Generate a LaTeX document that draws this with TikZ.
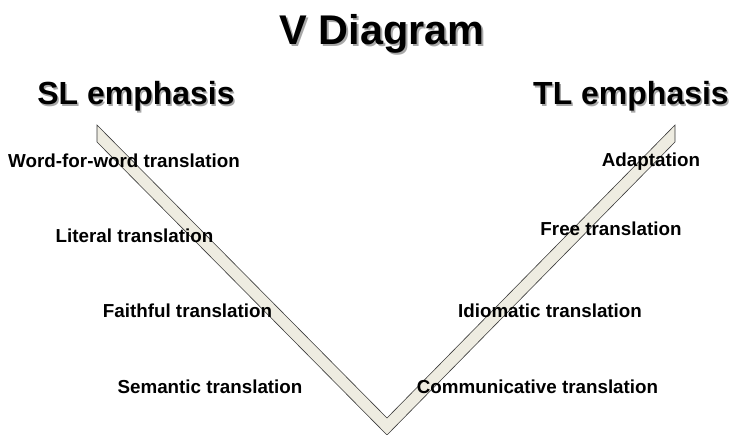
\documentclass[tikz,border=0pt]{standalone}
\usepackage{fontspec}
\setmainfont{Liberation Sans}
\definecolor{vfill}{HTML}{EEECE1}
\definecolor{vline}{HTML}{3A3A3A}
\definecolor{shadowgray}{HTML}{A8A8A8}
\newcommand{\shadowtext}[2]{\rlap{\hspace{#1}\raisebox{-#1}{\textcolor{shadowgray}{#2}}}#2}
\begin{document}
\begin{tikzpicture}[x=1pt,y=-1pt,
  lab/.style={font=\bfseries\fontsize{18.8}{20}\selectfont, anchor=base, inner sep=0pt},
  head/.style={font=\bfseries\fontsize{32}{34}\selectfont, anchor=base, inner sep=0pt},
  ttl/.style={font=\bfseries\fontsize{41.5}{44}\selectfont, anchor=base, inner sep=0pt}]
\useasboundingbox (0,0) rectangle (730,435);
% V band
\draw[fill=vfill, draw=vline, line width=0.6pt, line join=miter]
  (97,125) -- (387,418) -- (675,125) -- (675,142) -- (387,435) -- (97,142) -- cycle;
% title
\node[ttl] (title) at (382,45) {\shadowtext{2pt}{V Diagram}};
% headings
\node[head] (sl) at (136,105) {\shadowtext{1.5pt}{SL emphasis}};
\node[head] (tl) at (631,105) {\shadowtext{1.5pt}{TL emphasis}};
% left labels
\node[lab] (w4w) at (124,168) {Word-for-word translation};
\node[lab] (lit) at (134.5,243) {Literal translation};
\node[lab] (fai) at (187.5,317) {Faithful translation};
\node[lab] (sem) at (210,393) {Semantic translation};
% right labels
\node[lab] (ada) at (651,167) {Adaptation};
\node[lab] (fre) at (611,236) {Free translation};
\node[lab] (idi) at (550,317) {Idiomatic translation};
\node[lab] (com) at (537.5,393) {Communicative translation};
\end{tikzpicture}
\end{document}
